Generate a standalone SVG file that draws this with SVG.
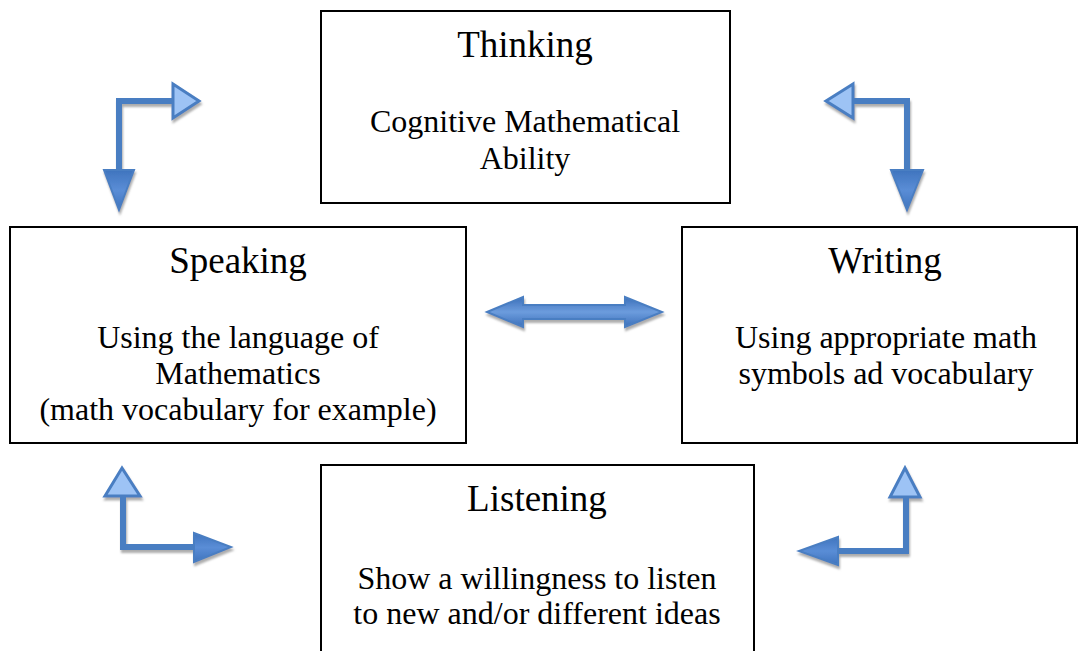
<svg xmlns="http://www.w3.org/2000/svg" width="1078" height="651" viewBox="0 0 1078 651">
<style>
.box{fill:#fff;stroke:#000;stroke-width:2}
.t{font-family:"Liberation Serif","Times New Roman",serif;font-size:37px;fill:#000;text-anchor:middle}
.b{font-family:"Liberation Serif","Times New Roman",serif;font-size:32px;fill:#000;text-anchor:middle}
.shaft{fill:none;stroke:#4A7EC2;stroke-width:6;stroke-linejoin:miter}
.hl{fill:#9DC3F5;stroke:#4A7EC2;stroke-width:3;stroke-linejoin:miter}
.hd{fill:url(#dk);stroke:#4A7EC2;stroke-width:2;stroke-linejoin:miter}
.sh{filter:url(#ds)}
</style>
<defs>
<linearGradient id="dk" x1="0" y1="0" x2="0" y2="1">
<stop offset="0" stop-color="#3F74BE"/>
<stop offset="0.5" stop-color="#5A8DD6"/>
<stop offset="1" stop-color="#3F74BE"/>
</linearGradient>
<linearGradient id="dh" x1="0" y1="0" x2="0" y2="1">
<stop offset="0" stop-color="#3C70BA"/>
<stop offset="0.5" stop-color="#6C9CDD"/>
<stop offset="1" stop-color="#3C70BA"/>
</linearGradient>
<filter id="ds" x="-20%" y="-20%" width="140%" height="140%">
<feDropShadow dx="1" dy="3" stdDeviation="1" flood-color="#999" flood-opacity="0.8"/>
</filter>
</defs>

<g id="thinking">
<rect class="box" x="321" y="11" width="409" height="192"/>
<text class="t" x="525" y="57">Thinking</text>
<text class="b" x="525" y="132">Cognitive Mathematical</text>
<text class="b" x="525" y="169">Ability</text>
</g>

<g id="speaking">
<rect class="box" x="10" y="227" width="456" height="216"/>
<text class="t" x="238" y="273">Speaking</text>
<text class="b" x="238" y="348">Using the language of</text>
<text class="b" x="238" y="384">Mathematics</text>
<text class="b" x="238" y="420">(math vocabulary for example)</text>
</g>

<g id="writing">
<rect class="box" x="682" y="227" width="395" height="216"/>
<text class="t" x="885" y="273">Writing</text>
<text class="b" x="886" y="348">Using appropriate math</text>
<text class="b" x="886" y="384">symbols ad vocabulary</text>
</g>

<g id="listening">
<rect class="box" x="321" y="465" width="433" height="200"/>
<text class="t" x="537" y="511">Listening</text>
<text class="b" x="537" y="589">Show a willingness to listen</text>
<text class="b" x="537" y="624">to new and/or different ideas</text>
</g>

<g id="connectors" class="sh">
<g id="c-top-left">
<polyline class="shaft" points="119,172 119,101 174,101"/>
<polygon class="hl" points="173,84 199,101 173,118"/>
<polygon class="hd" points="104,170 134,170 119,210"/>
</g>
<g id="c-top-right">
<polyline class="shaft" points="907,172 907,101 852,101"/>
<polygon class="hl" points="853,84 826,101 853,118"/>
<polygon class="hd" points="891,170 923,170 907,210"/>
</g>
<g id="c-middle">
<polygon fill="url(#dh)" stroke="#4A7EC2" stroke-width="2" points="487,312 523,297 523,305 625,305 625,297 662,312 625,327 625,319 523,319 523,327"/>
</g>
<g id="c-bottom-left">
<polyline class="shaft" points="123,494 123,547 196,547"/>
<polygon class="hl" points="105,496 140,496 122,468"/>
<polygon class="hd" points="194,533 194,562 231,547"/>
</g>
<g id="c-bottom-right">
<polyline class="shaft" points="906,495 906,551 836,551"/>
<polygon class="hl" points="890,497 920,497 905,468"/>
<polygon class="hd" points="838,537 838,565 799,551"/>
</g>
</g>
</svg>
